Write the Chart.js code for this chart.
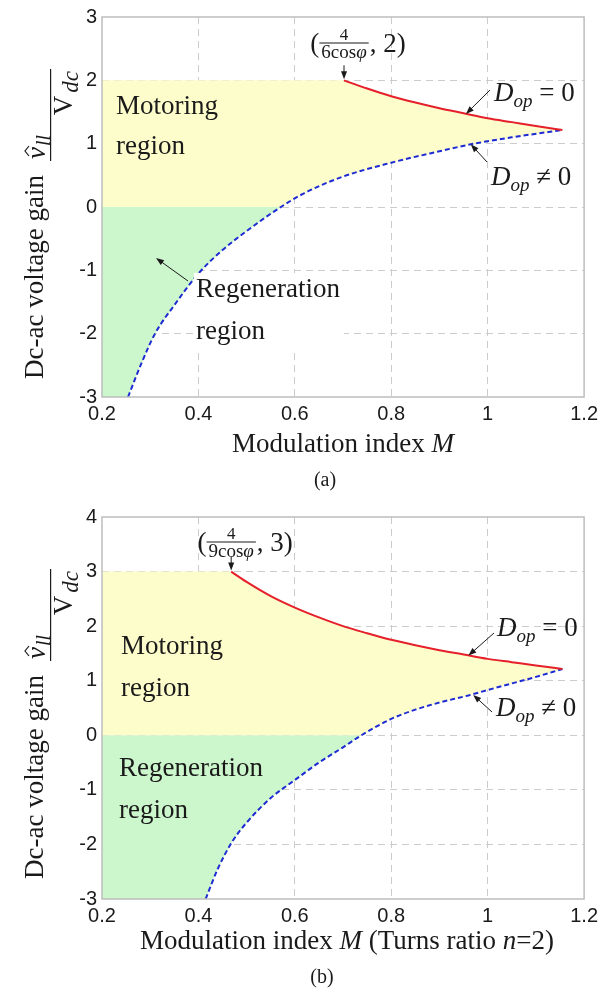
<!DOCTYPE html>
<html>
<head>
<meta charset="utf-8">
<script src="https://cdn.jsdelivr.net/npm/chart.js@4.4.0/dist/chart.umd.min.js"></script>
<style>
  body { margin: 0; background: #fff; width: 603px; height: 1000px; position: relative; overflow: hidden; }
  canvas { position: absolute; left: 0; }
  #chartA { top: 0; }
  #chartB { top: 500px; }
</style>
</head>
<body>
<canvas id="chartA" width="603" height="500"></canvas>
<canvas id="chartB" width="603" height="500"></canvas>
<script>
// axis ticks
const mTicks = [0.2, 0.4, 0.6, 0.8, 1, 1.2];
const gainTicksA = [-3, -2, -1, 0, 1, 2, 3];
const gainTicksB = [-3, -2, -1, 0, 1, 2, 3, 4];

// (a) D_op = 0 boundary (red) and D_op != 0 boundary (blue dashed)
const redMA    = [0.702, 0.75, 0.80, 0.85, 0.90, 0.95, 1.00, 1.05, 1.10, 1.155];
const redGainA = [2.00, 1.87, 1.75, 1.65, 1.56, 1.48, 1.40, 1.34, 1.28, 1.215];
const blueMA    = [0.254, 0.28, 0.31, 0.35, 0.40, 0.45, 0.50, 0.571, 0.62, 0.70, 0.80, 0.90, 0.965, 1.05, 1.155];
const blueGainA = [-3.0, -2.5, -2.0, -1.55, -1.05, -0.68, -0.38, 0.0, 0.22, 0.48, 0.70, 0.88, 0.99, 1.10, 1.215];

// (b) turns ratio n = 2
const redMB    = [0.468, 0.50, 0.55, 0.60, 0.65, 0.70, 0.75, 0.80, 0.85, 0.90, 0.95, 1.00, 1.05, 1.10, 1.155];
const redGainB = [3.00, 2.81, 2.55, 2.34, 2.16, 2.00, 1.87, 1.75, 1.65, 1.56, 1.48, 1.40, 1.34, 1.28, 1.215];
const blueMB    = [0.415, 0.44, 0.47, 0.50, 0.55, 0.60, 0.65, 0.70, 0.738, 0.80, 0.85, 0.90, 0.96, 1.00, 1.05, 1.10, 1.155];
const blueGainB = [-3.0, -2.45, -1.95, -1.6, -1.15, -0.82, -0.5, -0.22, 0.0, 0.3, 0.47, 0.6, 0.73, 0.83, 0.95, 1.07, 1.215];

const RED = '#e5202a';
const BLUE = '#1d2bd2';
const YELLOW = '#fdfccb';
const GREEN = '#ccf6cc';
const GRID = '#cccccc';
const BOX = '#bdbdbd';
const INK = '#1a1a1a';

function serif(size, italic) {
    return (italic ? 'italic ' : '') + size + 'px "Liberation Serif", "Times New Roman", serif';
}
const SANS = '"Liberation Sans", Arial, sans-serif';

function pts(xs, ys) {
    return xs.map((x, i) => ({ x: x, y: ys[i] }));
}

// closed outlines of the two operating regions, built from the boundary curves
function regionShapes(redM, redG, blueM, blueG, gainTicks) {
    const m0 = mTicks[0];
    const gMin = gainTicks[0];
    const blue = pts(blueM, blueG);
    const pos = blue.filter(p => p.y >= 0).reverse();
    const neg = blue.filter(p => p.y <= 0).reverse();
    const motoring = [{ x: m0, y: 0 }, { x: m0, y: redG[0] }]
        .concat(pts(redM, redG), pos, [{ x: m0, y: 0 }]);
    const regen = [{ x: m0, y: gMin }, { x: m0, y: 0 }]
        .concat(neg, [{ x: m0, y: gMin }]);
    return { motoring, regen };
}

function pieceWidth(ctx, pieces) {
    let w = 0;
    pieces.forEach(p => { ctx.font = serif(p.size, p.italic); w += ctx.measureText(p.t).width + (p.gap || 0); });
    return w;
}
function drawPieces(ctx, pieces, x, y) {
    pieces.forEach(p => {
        ctx.font = serif(p.size, p.italic);
        ctx.fillText(p.t, x, y + (p.dy || 0));
        x += ctx.measureText(p.t).width + (p.gap || 0);
    });
    return x;
}

function arrow(ctx, x1, y1, x2, y2) {
    const a = Math.atan2(y2 - y1, x2 - x1);
    ctx.save();
    ctx.strokeStyle = INK;
    ctx.fillStyle = INK;
    ctx.lineWidth = 1;
    ctx.beginPath();
    ctx.moveTo(x1, y1);
    ctx.lineTo(x2 - 5 * Math.cos(a), y2 - 5 * Math.sin(a));
    ctx.stroke();
    ctx.beginPath();
    ctx.moveTo(x2, y2);
    ctx.lineTo(x2 - 8 * Math.cos(a) + 3 * Math.sin(a), y2 - 8 * Math.sin(a) - 3 * Math.cos(a));
    ctx.lineTo(x2 - 8 * Math.cos(a) - 3 * Math.sin(a), y2 - 8 * Math.sin(a) + 3 * Math.cos(a));
    ctx.closePath();
    ctx.fill();
    ctx.restore();
}

function dopLabel(ctx, x, y, sym) {
    ctx.textBaseline = 'middle';
    ctx.textAlign = 'left';
    drawPieces(ctx, [
        { t: 'D', size: 27, italic: true },
        { t: 'op', size: 19, italic: true, dy: 8 },
        { t: ' ' + sym + ' 0', size: 27 }
    ], x, y);
}

function startLabel(ctx, cx, barY, den, after) {
    ctx.save();
    ctx.fillStyle = INK;
    ctx.textBaseline = 'alphabetic';
    ctx.textAlign = 'left';
    const denPieces = [{ t: den, size: 19 }, { t: 'φ', size: 19, italic: true }];
    const dw = pieceWidth(ctx, denPieces);
    const bw = dw + 4;
    drawPieces(ctx, denPieces, cx - dw / 2, barY + 15);
    ctx.font = serif(17, false);
    ctx.textAlign = 'center';
    ctx.fillText('4', cx, barY - 3);
    ctx.fillRect(cx - bw / 2, barY - 0.5, bw, 1);
    ctx.textAlign = 'left';
    ctx.font = serif(27, false);
    const pw = ctx.measureText('(').width;
    ctx.fillText('(', cx - bw / 2 - pw, barY + 9);
    ctx.fillText(after, cx + bw / 2 + 1, barY + 9);
    ctx.restore();
}

// rotated y label; positions are given as page y offsets from the plot top
function yTitle(ctx, top) {
    ctx.save();
    ctx.rotate(-Math.PI / 2);
    ctx.fillStyle = INK;
    ctx.strokeStyle = INK;
    ctx.textBaseline = 'alphabetic';
    ctx.textAlign = 'left';
    ctx.font = serif(27, false);
    ctx.fillText('Dc-ac voltage gain', -(top + 362), 43);

    const barStart = -(top + 144);
    const barEnd = -(top + 52);
    const num = [{ t: 'v', size: 27, italic: true, gap: 1 }, { t: 'll', size: 20, italic: true, dy: 5 }];
    const den = [{ t: 'V', size: 27, gap: 3 }, { t: 'dc', size: 23, italic: true, dy: 6 }];
    const dw = pieceWidth(ctx, den);
    drawPieces(ctx, num, barStart + 2, 45);
    // hat over v
    const vx = barStart + 3;
    ctx.lineWidth = 1.2;
    ctx.beginPath();
    ctx.moveTo(vx + 2, 29);
    ctx.lineTo(vx + 7, 25);
    ctx.lineTo(vx + 12, 29);
    ctx.stroke();
    ctx.fillRect(barStart, 50, barEnd - barStart, 1.2);
    drawPieces(ctx, den, barEnd - dw - 2, 72);
    ctx.restore();
}

function makeChart(spec) {
    const shapes = regionShapes(spec.redM, spec.redG, spec.blueM, spec.blueG, spec.gainTicks);
    const gMin = spec.gainTicks[0];
    const gMax = spec.gainTicks[spec.gainTicks.length - 1];

    const overlay = {
        id: 'overlay_' + spec.canvas,
        afterDraw(chart) {
            const ctx = chart.ctx;
            const a = chart.chartArea;
            const sx = chart.scales.x, sy = chart.scales.y;
            ctx.save();
            // frame
            ctx.strokeStyle = BOX;
            ctx.lineWidth = 1.5;
            ctx.strokeRect(a.left, a.top, a.right - a.left, a.bottom - a.top);

            ctx.fillStyle = INK;
            ctx.textBaseline = 'middle';
            ctx.textAlign = 'left';
            ctx.font = serif(27, false);
            ctx.fillText('Motoring', spec.motoring[0], spec.motoring[1]);
            ctx.fillText('region', spec.motoring[0], spec.motoring[2]);

            if (spec.regenBox) {
                ctx.fillStyle = '#fff';
                ctx.fillRect(spec.regenBox[0], spec.regenBox[1], spec.regenBox[2], spec.regenBox[3]);
                ctx.fillStyle = INK;
            }
            ctx.fillText('Regeneration', spec.regen[0], spec.regen[1]);
            ctx.fillText('region', spec.regen[0], spec.regen[2]);
            if (spec.regenArrow) {
                const r = spec.regenArrow;
                arrow(ctx, r[0], r[1], r[2], r[3]);
            }

            // start point of D_op = 0 curve
            const tx = sx.getPixelForValue(spec.redM[0]);
            const ty = sy.getPixelForValue(spec.redG[0]);
            arrow(ctx, tx, ty - 15, tx, ty - 1);
            startLabel(ctx, tx, spec.startBarY, spec.startDen, spec.startAfter);

            // D_op labels
            const d0 = spec.dop0, dn = spec.dopN;
            arrow(ctx, d0.tail[0], d0.tail[1], sx.getPixelForValue(d0.tip[0]), sy.getPixelForValue(d0.tip[1]));
            arrow(ctx, dn.tail[0], dn.tail[1], sx.getPixelForValue(dn.tip[0]), sy.getPixelForValue(dn.tip[1]));
            ctx.fillStyle = INK;
            dopLabel(ctx, d0.text[0], d0.text[1], '=');
            dopLabel(ctx, dn.text[0], dn.text[1], '≠');

            // axis titles
            ctx.textBaseline = 'middle';
            ctx.textAlign = 'left';
            const xt = spec.xTitle;
            const xw = pieceWidth(ctx, xt);
            drawPieces(ctx, xt, spec.xTitlePos[0] - xw / 2, spec.xTitlePos[1]);
            ctx.font = serif(20, false);
            ctx.textAlign = 'center';
            ctx.fillText(spec.caption, spec.captionPos[0], spec.captionPos[1]);
            ctx.restore();

            yTitle(ctx, a.top);
        }
    };

    const edgeColor = (lo, hi) => c => (c.tick && (c.tick.value === lo || c.tick.value === hi)) ? 'rgba(0,0,0,0)' : GRID;

    return new Chart(document.getElementById(spec.canvas), {
        type: 'line',
        data: {
            datasets: [
                { data: pts(spec.redM, spec.redG), borderColor: RED, borderWidth: 2, cubicInterpolationMode: 'monotone', order: 0 },
                { data: pts(spec.blueM, spec.blueG), borderColor: BLUE, borderWidth: 2, borderDash: [5, 3], cubicInterpolationMode: 'monotone', order: 1 },
                { data: shapes.motoring, borderColor: 'rgba(0,0,0,0)', borderWidth: 0, backgroundColor: YELLOW, fill: 'shape', order: 2 },
                { data: shapes.regen, borderColor: 'rgba(0,0,0,0)', borderWidth: 0, backgroundColor: GREEN, fill: 'shape', order: 2 }
            ]
        },
        options: {
            responsive: false,
            animation: false,
            devicePixelRatio: 1,
            elements: { point: { radius: 0, hoverRadius: 0 }, line: { tension: 0 } },
            layout: { padding: { top: spec.padTop, right: 18, left: 0, bottom: 0 } },
            plugins: { legend: { display: false }, tooltip: { enabled: false } },
            events: [],
            scales: {
                x: {
                    type: 'linear',
                    min: mTicks[0],
                    max: mTicks[mTicks.length - 1],
                    afterBuildTicks: s => { s.ticks = mTicks.map(v => ({ value: v })); },
                    afterFit: s => { s.height = spec.xAxisH; },
                    ticks: { callback: v => String(v), color: INK, padding: 5, maxRotation: 0, autoSkip: false, font: { family: SANS, size: 20 } },
                    grid: { color: edgeColor(mTicks[0], mTicks[mTicks.length - 1]), drawTicks: false, lineWidth: 1 },
                    border: { display: false, dash: [7, 5] }
                },
                y: {
                    type: 'linear',
                    min: gMin,
                    max: gMax,
                    afterBuildTicks: s => { s.ticks = spec.gainTicks.map(v => ({ value: v })); },
                    afterFit: s => { s.width = 102; },
                    ticks: { callback: v => String(v), color: INK, padding: 5, autoSkip: false, font: { family: SANS, size: 20 } },
                    grid: { color: edgeColor(gMin, gMax), drawTicks: false, lineWidth: 1 },
                    border: { display: false, dash: [7, 5] }
                }
            }
        },
        plugins: [overlay]
    });
}

makeChart({
    canvas: 'chartA', gainTicks: gainTicksA, padTop: 14, xAxisH: 103,
    redM: redMA, redG: redGainA, blueM: blueMA, blueG: blueGainA,
    motoring: [116, 107, 147],
    regen: [196, 290, 332], regenBox: [194, 273, 150, 76], regenArrow: [188, 281, 156, 258],
    startBarY: 43, startDen: '6cos', startAfter: ', 2)',
    dop0: { tip: [0.955, 1.47], tail: [490, 90], text: [494, 94] },
    dopN: { tip: [0.965, 0.99], tail: [487, 162], text: [491, 178] },
    xTitle: [{ t: 'Modulation index ', size: 27 }, { t: 'M', size: 27, italic: true }],
    xTitlePos: [343, 445], caption: '(a)', captionPos: [325, 481]
});

makeChart({
    canvas: 'chartB', gainTicks: gainTicksB, padTop: 15, xAxisH: 101,
    redM: redMB, redG: redGainB, blueM: blueMB, blueG: blueGainB,
    motoring: [121, 147, 189],
    regen: [119, 269, 311], regenBox: null, regenArrow: null,
    startBarY: 42, startDen: '9cos', startAfter: ', 3)',
    dop0: { tip: [0.96, 1.46], tail: [494, 133], text: [497, 129] },
    dopN: { tip: [0.97, 0.74], tail: [492, 212], text: [496, 209] },
    xTitle: [{ t: 'Modulation index ', size: 27 }, { t: 'M', size: 27, italic: true },
             { t: ' (Turns ratio ', size: 27 }, { t: 'n', size: 27, italic: true }, { t: '=2)', size: 27 }],
    xTitlePos: [347, 442], caption: '(b)', captionPos: [322, 478]
});
</script>
</body>
</html>
